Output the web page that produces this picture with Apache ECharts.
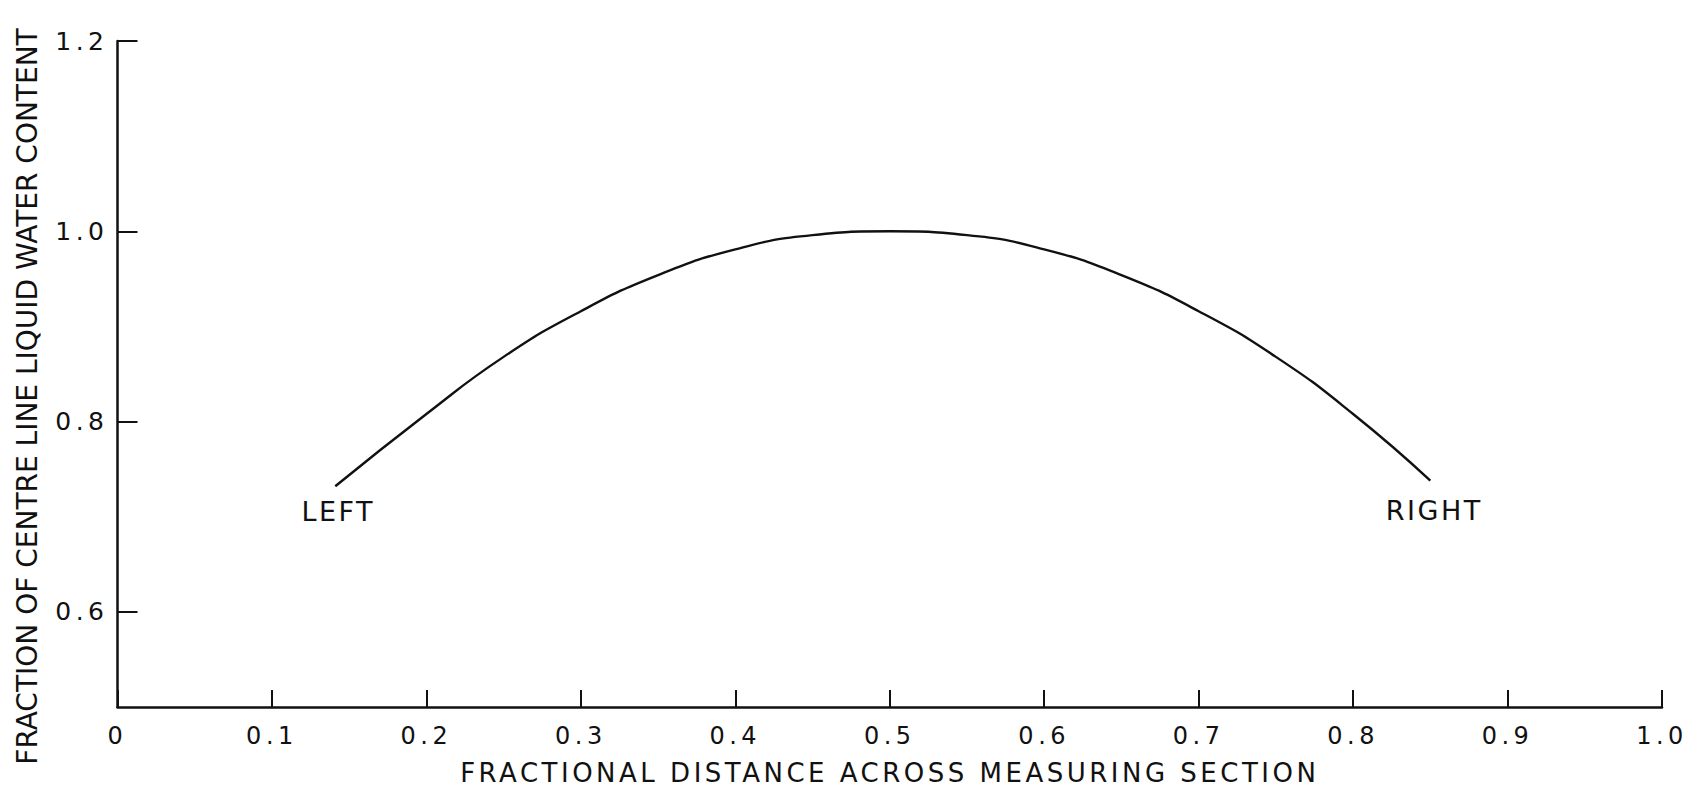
<!DOCTYPE html>
<html>
<head>
<meta charset="utf-8">
<title>Liquid water content across measuring section</title>
<script src="https://cdn.jsdelivr.net/npm/echarts@6.0.0/dist/echarts.min.js"></script>
<style>
    html, body { margin: 0; padding: 0; background: #fff; }
    #main { width: 1691px; height: 791px; }
</style>
</head>
<body>
<div id="main"></div>
<script>
// 曲线数据
var distance = [0.141, 0.2, 0.25, 0.3, 0.35, 0.4, 0.45, 0.5, 0.55, 0.6, 0.65, 0.7, 0.75, 0.8, 0.85];
var fraction = [0.732, 0.808, 0.868, 0.916, 0.954, 0.981, 0.996, 1.0, 0.996, 0.981, 0.954, 0.916, 0.868, 0.808, 0.738];
var endNames = ['LEFT', 'RIGHT'];

// 刻度
var xTicks = [0, 0.1, 0.2, 0.3, 0.4, 0.5, 0.6, 0.7, 0.8, 0.9, 1.0];
var yTicks = [0.6, 0.8, 1.0, 1.2];

var xName = 'FRACTIONAL DISTANCE ACROSS MEASURING SECTION';
var yName = 'FRACTION OF CENTRE LINE LIQUID WATER CONTENT';

var ink = '#111';
var font = '"DejaVu Sans", sans-serif';

var chart = echarts.init(document.getElementById('main'), null, { renderer: 'svg' });

var points = [];
for (var i = 0; i < distance.length; i++) {
    points.push([distance[i], fraction[i]]);
}
var last = distance.length - 1;

chart.setOption({
    animation: false,
    backgroundColor: '#fff',
    grid: {
        left: 117.5,
        right: 29,
        top: 41,
        bottom: 81
    },
    xAxis: {
        type: 'value',
        min: 0,
        max: 1,
        interval: 0.1,
        name: xName,
        nameLocation: 'middle',
        nameGap: 53,
        nameTextStyle: { color: ink, fontSize: 26, fontFamily: font },
        splitLine: { show: false },
        axisLine: { lineStyle: { color: ink, width: 2.5 } },
        axisTick: {
            inside: true,
            length: 17,
            customValues: xTicks,
            lineStyle: { color: ink, width: 2 }
        },
        axisLabel: {
            margin: 17,
            color: ink,
            fontSize: 24,
            fontFamily: font,
            customValues: xTicks,
            formatter: function (v) {
                return v === 0 ? '0' : v.toFixed(1);
            }
        }
    },
    yAxis: {
        type: 'value',
        min: 0.5,
        max: 1.2,
        interval: 0.1,
        name: yName,
        nameLocation: 'middle',
        nameGap: 76,
        nameTextStyle: { color: ink, fontSize: 28, fontFamily: font, padding: [0, 45, 0, 0] },
        splitLine: { show: false },
        axisLine: { show: true, lineStyle: { color: ink, width: 2.5 } },
        axisTick: {
            show: true,
            inside: true,
            length: 20,
            customValues: yTicks,
            lineStyle: { color: ink, width: 2 }
        },
        axisLabel: {
            margin: 9,
            color: ink,
            fontSize: 25,
            fontFamily: font,
            customValues: yTicks,
            formatter: function (v) {
                return v.toFixed(1);
            }
        }
    },
    series: [
        {
            type: 'line',
            data: points,
            smooth: true,
            showSymbol: false,
            silent: true,
            lineStyle: { color: ink, width: 2.4 },
            markPoint: {
                symbol: 'circle',
                symbolSize: 0,
                silent: true,
                label: {
                    show: true,
                    position: 'bottom',
                    distance: 12,
                    color: ink,
                    fontSize: 27,
                    fontFamily: font,
                    formatter: '{b}'
                },
                data: [
                    { name: endNames[0], coord: points[0], label: { offset: [3, 0] } },
                    { name: endNames[1], coord: points[last], label: { offset: [4, 4] } }
                ]
            }
        }
    ]
});

// 原图是模板字，字距较宽
function spreadLetters() {
    var texts = document.querySelectorAll('#main text');
    for (var k = 0; k < texts.length; k++) {
        var t = texts[k];
        var s = t.textContent;
        if (s === yName) {
            t.style.letterSpacing = '0px';
        } else if (s === xName) {
            t.style.letterSpacing = '3.5px';
        } else if (endNames.indexOf(s) >= 0) {
            t.style.letterSpacing = '2.5px';
        } else {
            t.style.letterSpacing = '4.5px';
        }
    }
}
spreadLetters();
chart.on('finished', spreadLetters);
</script>
</body>
</html>
